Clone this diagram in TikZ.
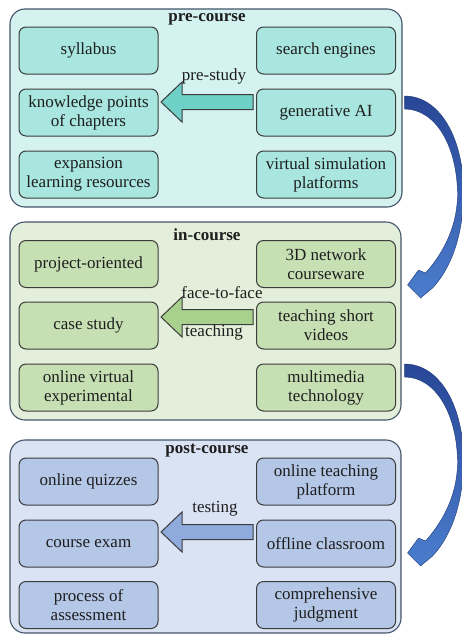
\documentclass[tikz,border=0pt]{standalone}
\usepackage{fontspec}
\setmainfont{Liberation Serif}
\usetikzlibrary{calc}
\definecolor{preout}{RGB}{212,242,239}
\definecolor{prein}{RGB}{168,230,223}
\definecolor{prearr}{RGB}{110,208,198}
\definecolor{inout}{RGB}{227,239,218}
\definecolor{inin}{RGB}{198,224,180}
\definecolor{inarr}{RGB}{169,209,142}
\definecolor{postout}{RGB}{218,227,243}
\definecolor{postin}{RGB}{180,199,231}
\definecolor{postarr}{RGB}{143,170,220}
\definecolor{innerline}{RGB}{60,60,60}
\definecolor{outerline}{RGB}{68,84,106}
\definecolor{txt}{RGB}{30,30,30}
\definecolor{bluedark}{RGB}{40,70,150}
\definecolor{bluelight}{RGB}{75,125,205}
\begin{document}
\begin{tikzpicture}[x=1pt,y=-1pt,
  font=\fontsize{17}{19}\selectfont, text=txt,
  outerbox/.style={draw=outerline, line width=1.1pt, rounded corners=15pt, inner sep=0pt},
  innerbox/.style={draw=innerline, line width=1pt, rounded corners=7pt, minimum width=139pt, minimum height=47pt, inner sep=0pt, align=center},
  titlelab/.style={font=\fontsize{17}{19}\selectfont\bfseries, inner sep=0pt},
  plainlab/.style={inner sep=0pt},
  holarrow/.style={draw=innerline, line width=1pt, line join=miter},
  bluearc/.style={draw=bluedark!80!black, line width=0.4pt, top color=bluedark, bottom color=bluelight}
]
\useasboundingbox (0,0) rectangle (461,635);

% ---------- outer boxes ----------
\node[outerbox, fill=preout, minimum width=392pt, minimum height=198pt] (pre) at (206,108) {};
\node[outerbox, fill=inout, minimum width=391pt, minimum height=198pt] (inc) at (205.5,321) {};
\node[outerbox, fill=postout, minimum width=391pt, minimum height=193pt] (post) at (205.5,536.5) {};

\node[titlelab] (pret) at (207,19) {pre-course};
\node[titlelab] (inct) at (207,235) {in-course};
\node[titlelab] (postt) at (207,451) {post-course};

% ---------- pre-course ----------
\node[innerbox, fill=prein] (syl) at (88.5,50.5) {syllabus};
\node[innerbox, fill=prein] (kp) at (88.5,112.5) {knowledge points\\of chapters};
\node[innerbox, fill=prein] (elr) at (88.5,174.5) {expansion\\learning resources};
\node[innerbox, fill=prein] (se) at (326,50.5) {search engines};
\node[innerbox, fill=prein] (gai) at (326,112.5) {generative AI};
\node[innerbox, fill=prein] (vsp) at (326,174.5) {virtual simulation\\platforms};

% ---------- in-course ----------
\node[innerbox, fill=inin] (po) at (88.5,264) {project-oriented};
\node[innerbox, fill=inin] (cs) at (88.5,325.5) {case study};
\node[innerbox, fill=inin] (ove) at (88.5,387.5) {online virtual\\experimental};
\node[innerbox, fill=inin] (nc) at (326,264) {3D network\\courseware};
\node[innerbox, fill=inin] (tsv) at (326,325.5) {teaching short\\videos};
\node[innerbox, fill=inin] (mm) at (326,387.5) {multimedia\\technology};

% ---------- post-course ----------
\node[innerbox, fill=postin] (oq) at (88.5,481.5) {online quizzes};
\node[innerbox, fill=postin] (ce) at (88.5,543.5) {course exam};
\node[innerbox, fill=postin] (pa) at (88.5,605) {process of\\assessment};
\node[innerbox, fill=postin] (otp) at (326,481.5) {online teaching\\platform};
\node[innerbox, fill=postin] (oc) at (326,543.5) {offline classroom};
\node[innerbox, fill=postin] (cj) at (326,605) {comprehensive\\judgment};

% ---------- hollow block arrows ----------
\coordinate (a1) at ($(gai.west)+(-3,-10.5)$);
\coordinate (a2) at ($(tsv.west)+(-3,-8.5)$);
\coordinate (a3) at ($(oc.west)+(-3,-11.5)$);
\draw[holarrow, fill=prearr] (a1) ++(0,-7.5) -- ++(-71,0) -- ++(0,-12.5) -- ++(-21,20) -- ++(21,20) -- ++(0,-12.5) -- ++(71,0) -- cycle;
\draw[holarrow, fill=inarr] (a2) ++(0,-7.5) -- ++(-71,0) -- ++(0,-12.5) -- ++(-21,20) -- ++(21,20) -- ++(0,-12.5) -- ++(71,0) -- cycle;
\draw[holarrow, fill=postarr] (a3) ++(0,-7.5) -- ++(-71,0) -- ++(0,-12.5) -- ++(-21,20) -- ++(21,20) -- ++(0,-12.5) -- ++(71,0) -- cycle;

\node[plainlab] (l1) at (214,76) {pre-study};
\node[plainlab] (l2) at (222,293) {face-to-face};
\node[plainlab] (l3) at (214,332) {teaching};
\node[plainlab] (l4) at (215,509) {testing};

% ---------- curved blue arrows ----------
\coordinate (c1) at ($(pre.east)+(2,-12)$);
\coordinate (c2) at ($(inc.east)+(3,43)$);
\foreach \c in {c1,c2}{
  \draw[bluearc, shift={(\c)}]
    (0,0) .. controls (36,0) and (60,44) .. (59,100)
    .. controls (58,145) and (44,175) .. (28,192)
    -- (16,202) -- (3,189) -- (14,174) -- (21,177)
    .. controls (36,160) and (52,135) .. (53,100)
    .. controls (53,50) and (31,13) .. (0,13) -- cycle;
}
\end{tikzpicture}
\end{document}
